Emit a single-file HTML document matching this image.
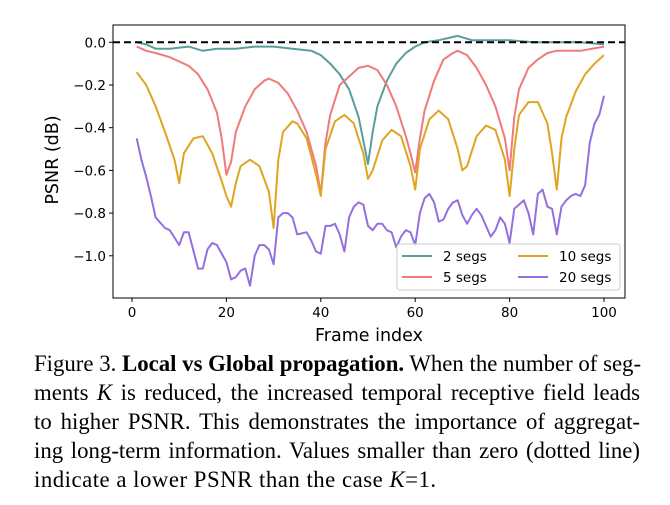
<!DOCTYPE html>
<html><head><meta charset="utf-8"><style>
body{margin:0;background:#fff;width:670px;height:505px;overflow:hidden;position:relative}
svg{position:absolute;left:0;top:0}
.cap{position:absolute;left:34px;width:606px;font-family:"Liberation Serif",serif;font-size:22.8px;line-height:22px;white-space:nowrap;color:#000}
.j{text-align:justify;text-align-last:justify}
</style></head><body>
<svg width="670" height="345" id="chart" font-family="DejaVu Sans, sans-serif"></svg>
<div class="cap j" style="top:353px">Figure 3. <b>Local vs Global propagation.</b> When the number of seg-</div>
<div class="cap j" style="top:382px">ments <i>K</i> is reduced, the increased temporal receptive field leads</div>
<div class="cap j" style="top:411px">to higher PSNR. This demonstrates the importance of aggregat-</div>
<div class="cap j" style="top:440px">ing long-term information. Values smaller than zero (dotted line)</div>
<div class="cap" style="top:469px;letter-spacing:0.5px">indicate a lower PSNR than the case <i>K</i>=1.</div>
<script>
const xTicks=[0,20,40,60,80,100];
const yTicks=[0.0,-0.2,-0.4,-0.6,-0.8,-1.0];
const yTickLabels=["0.0","\u22120.2","\u22120.4","\u22120.6","\u22120.8","\u22121.0"];
const seg2Frames=[1,3,5,8,12,15,18,22,26,30,34,38,40,42,44,46,48,50,51,52,54,56,58,60,62,65,69,72,75,80,85,90,95,100];
const seg2Vals=[0,-0.01,-0.03,-0.03,-0.02,-0.04,-0.03,-0.03,-0.02,-0.02,-0.03,-0.04,-0.06,-0.1,-0.15,-0.22,-0.35,-0.57,-0.42,-0.3,-0.18,-0.1,-0.05,-0.02,0,0.01,0.03,0.01,0.01,0.01,0,0,0,-0.01];
const seg5Frames=[1,3,5,8,10,12,14,16,18,19,20,21,22,24,26,28,29,31,33,35,37,39,40,41,42,44,46,48,50,52,54,56,58,59,60,61,62,64,66,68,69,71,73,75,77,79,80,81,82,84,86,88,90,95,100];
const seg5Vals=[-0.02,-0.04,-0.05,-0.07,-0.09,-0.11,-0.15,-0.22,-0.33,-0.45,-0.62,-0.56,-0.42,-0.3,-0.22,-0.18,-0.17,-0.19,-0.24,-0.32,-0.42,-0.58,-0.71,-0.47,-0.34,-0.2,-0.16,-0.12,-0.11,-0.13,-0.2,-0.3,-0.44,-0.52,-0.61,-0.45,-0.32,-0.18,-0.08,-0.05,-0.04,-0.06,-0.12,-0.2,-0.3,-0.45,-0.6,-0.35,-0.22,-0.12,-0.08,-0.05,-0.04,-0.04,-0.02];
const seg10Frames=[1,3,5,7,9,10,11,13,15,17,19,20,21,22,23,25,27,29,30,31,32,34,35,37,39,40,41,43,45,47,49,50,51,53,55,57,59,60,61,63,65,67,69,70,71,73,75,77,79,80,81,82,84,86,88,89,90,91,92,94,96,98,100];
const seg10Vals=[-0.14,-0.2,-0.3,-0.42,-0.55,-0.66,-0.52,-0.45,-0.44,-0.52,-0.65,-0.72,-0.77,-0.66,-0.58,-0.55,-0.58,-0.7,-0.87,-0.55,-0.42,-0.37,-0.38,-0.45,-0.62,-0.72,-0.5,-0.37,-0.34,-0.38,-0.52,-0.64,-0.6,-0.46,-0.41,-0.44,-0.58,-0.69,-0.5,-0.36,-0.32,-0.36,-0.5,-0.6,-0.58,-0.44,-0.39,-0.41,-0.55,-0.72,-0.5,-0.34,-0.28,-0.28,-0.38,-0.52,-0.69,-0.45,-0.35,-0.23,-0.15,-0.1,-0.06];
const seg20Frames=[1,2,3,4,5,7,8,10,11,12,14,15,16,17,18,20,21,22,23,24,25,26,27,28,29,30,31,32,33,34,35,37,38,39,40,41,42,43,44,45,46,47,48,49,50,51,52,53,54,55,56,57,58,59,60,61,62,63,64,65,66,67,68,69,70,71,72,73,74,75,76,77,78,79,80,81,82,83,84,85,86,87,88,89,90,91,92,93,94,95,96,97,98,99,100];
const seg20Vals=[-0.45,-0.55,-0.63,-0.72,-0.82,-0.87,-0.88,-0.95,-0.89,-0.89,-1.06,-1.06,-0.97,-0.94,-0.95,-1.03,-1.11,-1.1,-1.07,-1.06,-1.14,-1.0,-0.95,-0.95,-0.97,-1.04,-0.82,-0.8,-0.8,-0.82,-0.9,-0.89,-0.93,-0.98,-0.99,-0.86,-0.86,-0.85,-0.9,-0.98,-0.82,-0.77,-0.75,-0.76,-0.86,-0.88,-0.85,-0.85,-0.88,-0.89,-0.96,-0.91,-0.88,-0.89,-0.95,-0.8,-0.73,-0.71,-0.75,-0.84,-0.83,-0.78,-0.75,-0.74,-0.81,-0.85,-0.81,-0.78,-0.81,-0.86,-0.91,-0.88,-0.82,-0.85,-0.94,-0.78,-0.76,-0.74,-0.8,-0.9,-0.71,-0.69,-0.77,-0.78,-0.9,-0.77,-0.74,-0.72,-0.71,-0.72,-0.67,-0.47,-0.38,-0.34,-0.25];
const seriesNames=["2 segs","5 segs","10 segs","20 segs"];
const colors=["#5a9e9a","#f07a7a","#e0a520","#9370e0"];

const svg=document.getElementById('chart');
const NS='http://www.w3.org/2000/svg';
const L=113,R=625,T=25,B=298;
const X=v=>132+v*4.72;
const Y=v=>42.3-v*213.5;
function mk(tag,attrs,parent){const e=document.createElementNS(NS,tag);for(const k in attrs)e.setAttribute(k,attrs[k]);(parent||svg).appendChild(e);return e;}

const frame=mk('rect',{x:L,y:T,width:R-L,height:B-T,fill:'none',stroke:'#000','stroke-width':1});



xTicks.forEach(t=>{
  const ln=mk('line',{x1:X(t),x2:X(t),y1:B,y2:B+4,stroke:'#000'});
  
  
  const tx=mk('text',{x:X(t),y:B+19,'text-anchor':'middle','font-size':13.5});
  tx.textContent=t;
  
  
});
yTicks.forEach((t,i)=>{
  const ln=mk('line',{x1:L-4,x2:L,y1:Y(t),y2:Y(t),stroke:'#000'});
  
  
  const tx=mk('text',{x:L-7,y:Y(t)+5,'text-anchor':'end','font-size':13.5});
  tx.textContent=yTickLabels[i];
  
  
});
const xl=mk('text',{x:369,y:341,'text-anchor':'middle','font-size':17.5});
xl.textContent='Frame index';


const yl=mk('text',{x:0,y:0,'text-anchor':'middle','font-size':17.5,transform:'translate(58,160) rotate(-90)'});
yl.textContent='PSNR (dB)';



const fr=[seg2Frames,seg5Frames,seg10Frames,seg20Frames];
const vs=[seg2Vals,seg5Vals,seg10Vals,seg20Vals];
const ids=['line-2-segs','line-5-segs','line-10-segs','line-20-segs'];
fr.forEach((f,s)=>{
  const pts=f.map((x,i)=>X(x).toFixed(1)+','+Y(vs[s][i]).toFixed(1)).join(' ');
  const pl=mk('polyline',{points:pts,fill:'none',stroke:colors[s],'stroke-width':2,'stroke-linejoin':'round'});
  
  
});
const zl=mk('line',{x1:L,x2:R,y1:Y(0),y2:Y(0),stroke:'#000','stroke-width':2,'stroke-dasharray':'7,4'});



const lg=mk('g',{});


mk('rect',{x:397,y:244,width:223,height:46,rx:3,fill:'#fff','fill-opacity':0.85,stroke:'#ccc'},lg);
const pos=[[402,256],[402,277],[518,256],[518,277]];
seriesNames.forEach((n,i)=>{
  const g=mk('g',{},lg);
  
  
  mk('line',{x1:pos[i][0],x2:pos[i][0]+30,y1:pos[i][1],y2:pos[i][1],stroke:colors[i],'stroke-width':2},g);
  const t=mk('text',{x:pos[i][0]+41,y:pos[i][1]+5,'font-size':13.5},g);
  t.textContent=n;
});
</script>
</body></html>
